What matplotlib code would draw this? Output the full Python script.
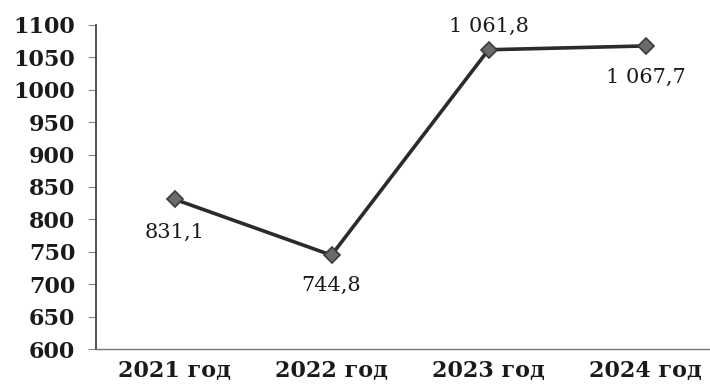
import matplotlib
matplotlib.use("Agg")
import matplotlib.pyplot as plt

years = ["2021 год", "2022 год", "2023 год", "2024 год"]
values = [831.1, 744.8, 1061.8, 1067.7]
labels = ["831,1", "744,8", "1 061,8", "1 067,7"]
label_offsets = [(0, -24), (0, -22), (0, 17), (0, -23)]

plt.rcParams["font.family"] = ["DejaVu Serif"]

fig = plt.figure(figsize=(7.1, 3.86), dpi=100)
ax = fig.add_axes([96 / 710, 1 - 349 / 386, (724 - 96) / 710, 324 / 386])

x = range(len(years))
ax.plot(x, values, color="#2b2b2b", linewidth=2.6, marker="D", markersize=8,
        markerfacecolor="#6a6a6a", markeredgecolor="#3a3a3a", markeredgewidth=1.2)

for xi, v, lab, off in zip(x, values, labels, label_offsets):
    ax.annotate(lab, (xi, v), xytext=off, textcoords="offset points",
                ha="center", va="center", fontsize=15, color="#1a1a1a")

ax.set_xlim(-0.5, 3.5)
ax.set_ylim(600, 1100)
ax.set_yticks(range(600, 1101, 50))
ax.set_xticks(list(x))
ax.set_xticklabels(years)
ax.tick_params(axis="y", labelsize=16, length=6, width=0.8, color="#888888", pad=9)
ax.tick_params(axis="x", labelsize=16, length=0, pad=8)
for t in ax.get_yticklabels() + ax.get_xticklabels():
    t.set_fontweight("semibold")
    t.set_color("#1a1a1a")

ax.spines["top"].set_visible(False)
ax.spines["right"].set_visible(False)
ax.spines["left"].set_color("#333333")
ax.spines["left"].set_linewidth(1.2)
ax.spines["bottom"].set_color("#777777")
ax.spines["bottom"].set_linewidth(1.0)
ax.spines["bottom"].set_linestyle((0, (4, 1)))

fig.savefig("out.png", dpi=100)
